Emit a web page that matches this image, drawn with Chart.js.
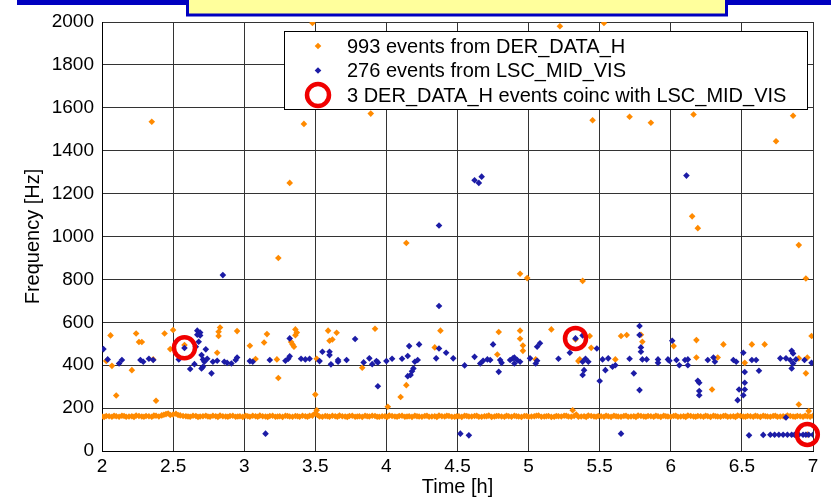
<!DOCTYPE html>
<html>
<head>
<meta charset="utf-8">
<script src="https://cdn.jsdelivr.net/npm/chart.js@4.4.1/dist/chart.umd.min.js"></script>
<style>
  html, body { margin: 0; padding: 0; background: #fff; }
</style>
</head>
<body>
<canvas id="freqChart" width="831" height="497"></canvas>
<script>
// [time h, frequency Hz]
const derLine = [
  [2.00,161],[2.03,163],[2.07,160],[2.10,162],[2.14,164],[2.17,160],[2.21,162],[2.24,165],[2.28,161],[2.31,163],
  [2.35,160],[2.38,164],[2.42,166],[2.45,172],[2.48,168],[2.52,174],[2.55,166],[2.59,162],[2.62,160],[2.66,163],
  [2.69,161],[2.73,164],[2.76,160],[2.80,162],[2.83,165],[2.87,161],[2.90,163],[2.94,160],[2.97,162],[3.01,164],
  [3.04,160],[3.08,162],[3.11,165],[3.15,161],[3.18,163],[3.22,160],[3.25,162],[3.29,164],[3.32,161],[3.36,163],
  [3.39,160],[3.43,162],[3.46,164],[3.50,176],[3.53,161],[3.57,163],[3.60,160],[3.64,162],[3.67,165],[3.71,161],
  [3.74,163],[3.78,160],[3.81,162],[3.85,164],[3.88,161],[3.92,163],[3.95,160],[3.99,162],[4.02,165],[4.06,161],
  [4.09,163],[4.13,160],[4.16,162],[4.20,164],[4.23,161],[4.27,163],[4.30,160],[4.34,162],[4.37,165],[4.41,161],
  [4.44,163],[4.48,160],[4.51,162],[4.55,164],[4.58,161],[4.62,163],[4.65,160],[4.69,162],[4.72,165],[4.76,161],
  [4.79,163],[4.83,160],[4.86,162],[4.90,164],[4.93,161],[4.97,163],[5.00,160],[5.04,162],[5.07,165],[5.11,161],
  [5.14,163],[5.18,160],[5.21,162],[5.25,164],[5.28,161],[5.32,163],[5.35,160],[5.39,162],[5.42,165],[5.46,161],
  [5.49,163],[5.53,160],[5.56,162],[5.60,164],[5.63,161],[5.67,163],[5.70,160],[5.74,162],[5.77,165],[5.81,161],
  [5.84,163],[5.88,160],[5.91,162],[5.95,164],[5.98,161],[6.02,163],[6.05,160],[6.09,162],[6.12,165],[6.16,161],
  [6.19,163],[6.23,160],[6.26,162],[6.30,164],[6.33,161],[6.37,163],[6.40,160],[6.44,162],[6.47,165],[6.51,161],
  [6.54,163],[6.58,160],[6.61,162],[6.65,164],[6.68,161],[6.72,163],[6.75,160],[6.79,162],[6.82,165],[6.86,161],
  [6.89,163],[6.93,160],[6.96,162],[7.00,164]
];

// the same band, events falling between the ones above
const derLineMid = [
  [2.015,159],[2.05,162],[2.085,164],[2.12,160],[2.155,163],[2.19,161],[2.225,159],[2.26,163],[2.295,160],[2.33,162],
  [2.365,165],[2.40,161],[2.435,169],[2.465,175],[2.50,170],[2.535,168],[2.57,163],[2.605,161],[2.64,164],[2.675,159],
  [2.71,162],[2.745,161],[2.78,164],[2.815,159],[2.85,162],[2.885,160],[2.92,164],[2.955,161],[2.99,159],[3.025,162],
  [3.06,164],[3.095,160],[3.13,162],[3.165,159],[3.20,164],[3.235,161],[3.27,159],[3.305,163],[3.34,160],[3.375,162],
  [3.41,164],[3.445,160],[3.48,165],[3.515,168],[3.55,160],[3.585,162],[3.62,164],[3.655,160],[3.69,162],[3.725,159],
  [3.76,164],[3.795,161],[3.83,159],[3.865,162],[3.90,164],[3.935,160],[3.97,162],[4.005,159],[4.04,163],[4.075,160],
  [4.11,164],[4.145,161],[4.18,159],[4.215,162],[4.25,160],[4.285,164],[4.32,161],[4.355,159],[4.39,162],[4.425,164],
  [4.46,160],[4.495,162],[4.53,159],[4.565,163],[4.60,161],[4.635,164],[4.67,160],[4.705,162],[4.74,159],[4.775,163],
  [4.81,161],[4.845,164],[4.88,160],[4.915,162],[4.95,159],[4.985,163],[5.02,161],[5.055,164],[5.09,160],[5.125,162],
  [5.16,159],[5.195,163],[5.23,161],[5.265,164],[5.30,160],[5.335,170],[5.37,161],[5.405,159],[5.44,163],[5.475,160],
  [5.51,162],[5.545,164],[5.58,159],[5.615,162],[5.65,160],[5.685,164],[5.72,161],[5.755,159],[5.79,163],[5.825,160],
  [5.86,162],[5.895,164],[5.93,159],[5.965,162],[6.00,160],[6.035,164],[6.07,161],[6.105,159],[6.14,163],[6.175,160],
  [6.21,162],[6.245,164],[6.28,159],[6.315,162],[6.35,160],[6.385,164],[6.42,161],[6.455,159],[6.49,163],[6.525,160],
  [6.56,162],[6.595,164],[6.63,159],[6.665,162],[6.70,160],[6.735,164],[6.77,161],[6.805,159],[6.84,163],[6.875,160],
  [6.91,162],[6.945,164],[6.98,160]
];

const derScatter = [
  [3.48,1995],[2.35,1535],[3.42,1525],[3.32,1250],[3.24,900],[5.22,1980],[3.89,1573],[4.14,970],[4.94,826],[4.99,806],
  [5.38,793],[5.53,1995],[5.45,1542],[5.71,1558],[5.86,1530],[6.16,1569],[6.86,1563],[6.74,1444],[6.15,1094],[6.19,1039],
  [6.90,960],[6.95,804],
  [2.06,539],[2.24,548],[2.26,508],[2.28,508],[2.44,548],[2.50,564],[2.07,397],[2.03,420],[2.21,377],[2.10,259],
  [2.38,234],[2.36,427],[2.48,475],[2.58,494],[2.83,576],[2.82,556],[2.82,536],[2.81,458],[2.95,559],[3.04,491],
  [3.16,545],[3.14,506],[3.08,429],[3.23,427],[3.24,340],[3.36,567],[3.37,552],[3.36,540],[3.33,508],[3.34,497],
  [3.35,486],[3.50,263],[3.51,190],[3.51,430],[3.59,561],[3.65,551],[3.60,514],[3.62,520],[3.92,570],[3.83,388],
  [4.01,206],[4.10,252],[4.14,307],[4.34,483],[4.38,561],
  [4.79,555],[4.94,561],[4.94,523],[4.96,492],[4.96,467],[5.16,567],[4.78,450],[5.05,427],[5.36,427],[5.35,419],
  [5.43,536],[5.44,481],[5.31,190],[5.65,536],[5.69,541],[5.79,542],[5.80,509],[6.02,489],[6.18,517],[6.18,436],
  [6.33,436],[6.37,497],[6.29,287],[6.57,497],[6.66,497],[6.52,411],[6.99,536],[6.96,436],[6.90,432],[6.95,362],
  [6.90,217],[6.97,186],[5.61,427],[5.33,520],[6.96,77]
];

const lscEvents = [
  [2.85,820],[4.62,1262],[4.65,1250],[4.67,1279],[4.37,1051],[4.37,676],[6.11,1284],
  [2.01,475],[2.04,427],[2.12,408],[2.14,424],[2.27,424],[2.29,416],[2.33,430],[2.36,424],[2.58,480],[2.54,427],
  [2.67,561],[2.69,552],[2.69,539],[2.67,542],[2.68,509],[2.66,486],[2.73,474],[2.70,447],[2.71,427],[2.72,416],
  [2.74,430],[2.62,382],[2.65,405],[2.71,393],[2.70,385],[2.77,362],[2.78,416],[2.81,421],[2.86,416],[2.88,411],
  [2.91,408],[2.94,424],[2.95,436],[3.04,419],[3.06,416],[3.18,424],[3.29,421],[3.31,430],[3.32,442],[3.32,525],
  [3.40,430],[3.43,427],[3.46,430],[3.53,419],[3.55,463],[3.60,463],[3.60,447],[3.61,404],[3.66,424],[3.66,416],
  [3.72,424],[3.78,522],[3.84,413],[3.88,432],[3.90,405],[3.93,419],[3.94,413],[3.94,302],[4.00,419],[4.04,430],
  [4.11,430],[4.15,443],[4.16,489],[4.23,497],[4.20,416],[4.22,424],[4.19,385],[4.18,372],[4.17,354],[4.15,349],
  [4.37,478],[4.35,432],[4.42,458],[3.15,81],
  [4.47,432],[4.55,399],[4.62,439],[4.66,408],[4.68,421],[4.71,427],[4.73,424],[4.75,497],[4.79,369],[4.80,424],
  [4.81,411],[4.87,424],[4.89,432],[4.90,436],[4.92,424],[4.94,416],[4.90,408],[5.01,432],[5.05,408],[5.06,421],
  [5.06,486],[5.08,502],[5.21,430],[5.33,525],[5.38,539],[5.29,458],[5.38,416],[5.40,430],[5.42,416],[5.39,377],
  [5.38,354],[5.48,478],[5.50,326],[5.52,427],[5.56,432],[5.54,377],[5.59,393],[5.61,400],[5.71,430],[5.74,362],
  [5.78,583],[5.78,541],[5.79,483],[5.79,463],[5.80,427],[5.83,427],[5.78,284],[5.91,427],[5.91,411],[5.98,427],
  [5.99,421],[6.01,514],[6.04,424],[6.06,400],[6.10,424],[6.12,427],[6.12,400],[6.19,327],[6.20,318],[6.20,280],
  [6.20,260],[6.26,424],[6.30,436],[6.31,416],[6.44,424],[6.46,416],[6.51,458],[6.52,368],[6.52,318],[6.52,287],
  [6.51,260],[6.48,287],[6.47,237],[6.57,424],[6.60,424],[6.62,374],[6.77,432],[6.81,432],[6.84,424],[6.85,467],
  [6.86,455],[6.86,408],[6.85,385],[6.88,427],[6.94,424],[6.99,411],[6.81,156],
  [4.52,81],[4.58,73],[5.65,81],[6.55,73],[6.65,75],[6.70,76],[6.73,76],[6.76,76],[6.79,76],[6.82,76],
  [6.85,76],[6.87,76],[6.90,76],[6.93,76],[6.95,76],[6.97,76],[7.00,76]
];

const coincEvents = [[2.58,481],[5.33,525],[6.96,77]];

const seriesLabels = [
  '993 events from DER_DATA_H',
  '276 events from LSC_MID_VIS',
  '3 DER_DATA_H events coinc with LSC_MID_VIS'
];

const xTicks = [2, 7, 0.5];
const yTicks = [0, 2000, 200];

const ORANGE = '#ff8a00';
const BLUE = '#1c1ca6';
const RED = '#f00000';
const FONT = '"Liberation Sans", Arial, sans-serif';

const toPoints = rows => rows.map(([t, f]) => ({ x: t, y: f }));

// white page, blue strip and the yellow heading box
const pageBackground = {
  id: 'pageBackground',
  beforeDraw(chart) {
    const { ctx, width, height } = chart;
    ctx.save();
    ctx.fillStyle = '#fff';
    ctx.fillRect(0, 0, width, height);
    ctx.fillStyle = '#0000c0';
    ctx.fillRect(17, 0, width - 17, 5);
    ctx.fillStyle = '#ffff9c';
    ctx.fillRect(186, 0, 542, 15);
    ctx.strokeStyle = '#0000c0';
    ctx.lineWidth = 3;
    ctx.strokeRect(187.5, -4, 539, 19);
    ctx.restore();
  }
};

// boxed legend in the top right of the plot
const boxLegend = {
  id: 'boxLegend',
  afterDatasetsDraw(chart) {
    const { ctx, chartArea } = chart;
    const right = chartArea.right - 6;
    const left = right - 523;
    const top = chartArea.top + 9;
    const rowH = 24.5;
    ctx.save();
    ctx.fillStyle = '#fff';
    ctx.fillRect(left, top, right - left, 78);
    ctx.strokeStyle = '#000';
    ctx.lineWidth = 1;
    ctx.strokeRect(left + 0.5, top + 0.5, right - left, 78);
    ctx.font = '20px ' + FONT;
    ctx.textBaseline = 'middle';
    chart.data.datasets.forEach((ds, i) => {
      const y = top + 15 + i * rowH;
      const mx = left + 34;
      if (ds.pointStyle === 'circle') {
        ctx.beginPath();
        ctx.arc(mx, y, 11, 0, Math.PI * 2);
        ctx.strokeStyle = ds.pointBorderColor;
        ctx.lineWidth = 4.5;
        ctx.stroke();
      } else {
        ctx.beginPath();
        ctx.moveTo(mx - 3.3, y);
        ctx.lineTo(mx, y - 3.3);
        ctx.lineTo(mx + 3.3, y);
        ctx.lineTo(mx, y + 3.3);
        ctx.closePath();
        ctx.fillStyle = ds.pointBackgroundColor;
        ctx.fill();
      }
      ctx.fillStyle = '#000';
      ctx.fillText(ds.label, left + 63, y + 1);
    });
    ctx.restore();
  }
};

new Chart(document.getElementById('freqChart'), {
  type: 'scatter',
  data: {
    datasets: [
      {
        label: seriesLabels[0],
        data: toPoints(derLine.concat(derLineMid, derScatter)),
        pointStyle: 'rectRot',
        pointRadius: 3.3,
        pointBorderWidth: 0,
        pointBackgroundColor: ORANGE,
        pointBorderColor: ORANGE,
        order: 3
      },
      {
        label: seriesLabels[1],
        data: toPoints(lscEvents),
        pointStyle: 'rectRot',
        pointRadius: 3.3,
        pointBorderWidth: 0,
        pointBackgroundColor: BLUE,
        pointBorderColor: BLUE,
        order: 2
      },
      {
        label: seriesLabels[2],
        data: toPoints(coincEvents),
        pointStyle: 'circle',
        pointRadius: 10.5,
        pointBorderWidth: 4.5,
        pointBackgroundColor: 'rgba(0,0,0,0)',
        pointBorderColor: RED,
        clip: false,
        order: 1
      }
    ]
  },
  options: {
    responsive: false,
    animation: false,
    events: [],
    layout: { padding: { top: 22, right: 18, left: 0, bottom: 0 } },
    plugins: {
      legend: { display: false },
      tooltip: { enabled: false }
    },
    scales: {
      x: {
        type: 'linear',
        min: xTicks[0],
        max: xTicks[1],
        afterFit(scale) { scale.height = 46; },
        ticks: {
          stepSize: xTicks[2],
          padding: 4,
          color: '#000',
          font: { family: FONT, size: 19 },
          callback: v => String(v)
        },
        grid: { color: '#333', lineWidth: 1, drawTicks: false },
        border: { color: '#000' },
        title: {
          display: true,
          text: 'Time [h]',
          color: '#000',
          font: { family: FONT, size: 20, lineHeight: 1 },
          padding: { top: 0, bottom: 0 }
        }
      },
      y: {
        min: yTicks[0],
        max: yTicks[1],
        afterFit(scale) { scale.width = 102; },
        ticks: {
          stepSize: yTicks[2],
          padding: 8,
          color: '#000',
          font: { family: FONT, size: 19 },
          callback: v => String(v)
        },
        grid: { color: '#333', lineWidth: 1, drawTicks: false },
        border: { color: '#000' },
        title: {
          display: true,
          text: 'Frequency [Hz]',
          color: '#000',
          font: { family: FONT, size: 20, lineHeight: 1.2 },
          padding: { top: 21, bottom: 0 }
        }
      }
    }
  },
  plugins: [pageBackground, boxLegend]
});
</script>
</body>
</html>
